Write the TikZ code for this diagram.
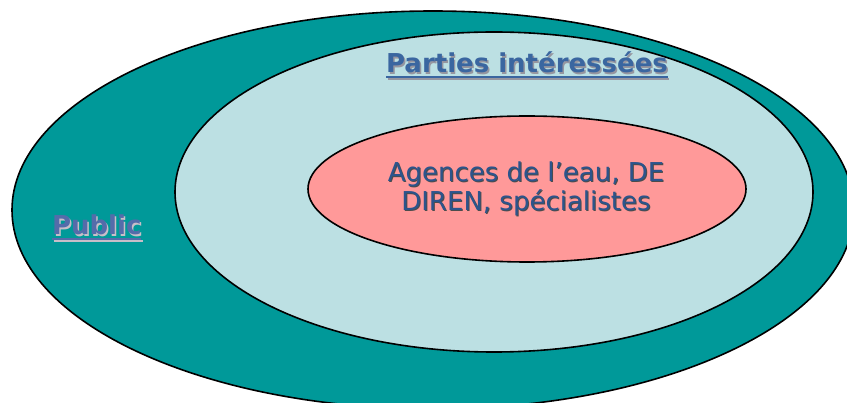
\documentclass[tikz,border=0pt]{standalone}
\usepackage{fontspec}
\setmainfont{DejaVu Sans}
\usetikzlibrary{shapes.geometric}
\definecolor{tealc}{RGB}{0,153,153}
\definecolor{lightb}{RGB}{188,224,227}
\definecolor{pinkc}{RGB}{255,153,153}
\definecolor{txtblue}{RGB}{58,102,160}
\definecolor{pubblue}{RGB}{84,108,170}
\definecolor{midblue}{RGB}{44,84,140}
\definecolor{shadowc}{RGB}{150,150,160}
\definecolor{pubshadow}{RGB}{200,190,200}
\tikzset{
  ring/.style={ellipse, draw=black, line width=1.6pt, inner sep=0pt, outer sep=0pt},
  lbl/.style={inner sep=0pt, outer sep=0pt, font=\fontsize{26}{29}\selectfont},
  ulink/.style={line width=2pt},
}
\begin{document}
\begin{tikzpicture}[x=1pt,y=-1pt]
\useasboundingbox (0,0) rectangle (847,403);
\clip (0,0) rectangle (847,403);
\fill[white] (0,0) rectangle (847,403);
% rings
\node[ring, fill=tealc, minimum width=842pt, minimum height=398pt] (outer) at (433,210) {};
\node[ring, fill=lightb, minimum width=638pt, minimum height=320pt] (middle) at (494,192) {};
\node[ring, fill=pinkc, minimum width=438pt, minimum height=146pt] (inner) at (527,189) {};
% Parties interessees
\node[lbl, text=shadowc, anchor=base] (partiesS) at (528.5,74.5) {\bfseries Parties intéressées};
\node[lbl, text=txtblue, anchor=base] (parties) at (527,73) {\bfseries Parties intéressées};
\draw[ulink, shadowc] ([shift={(1.5,6)}]parties.base west) -- ([shift={(1.5,6)}]parties.base east);
\draw[ulink, txtblue] ([shift={(0,4.5)}]parties.base west) -- ([shift={(0,4.5)}]parties.base east);
% Public
\node[lbl, text=pubshadow, anchor=base west] (publicS) at (53.5,236.5) {\bfseries Public};
\node[lbl, text=pubblue, anchor=base west] (public) at (52,235) {\bfseries Public};
\draw[ulink, pubshadow] ([shift={(1.5,6)}]public.base west) -- ([shift={(1.5,6)}]public.base east);
\draw[ulink, pubblue] ([shift={(0,4.5)}]public.base west) -- ([shift={(0,4.5)}]public.base east);
% centre text
\node[lbl, text=black!70, align=center] (centreS) at (527,190) {Agences de l’eau, DE\\DIREN, spécialistes};
\node[lbl, text=midblue, align=center] (centre) at (526,189) {Agences de l’eau, DE\\DIREN, spécialistes};
\end{tikzpicture}
\end{document}
